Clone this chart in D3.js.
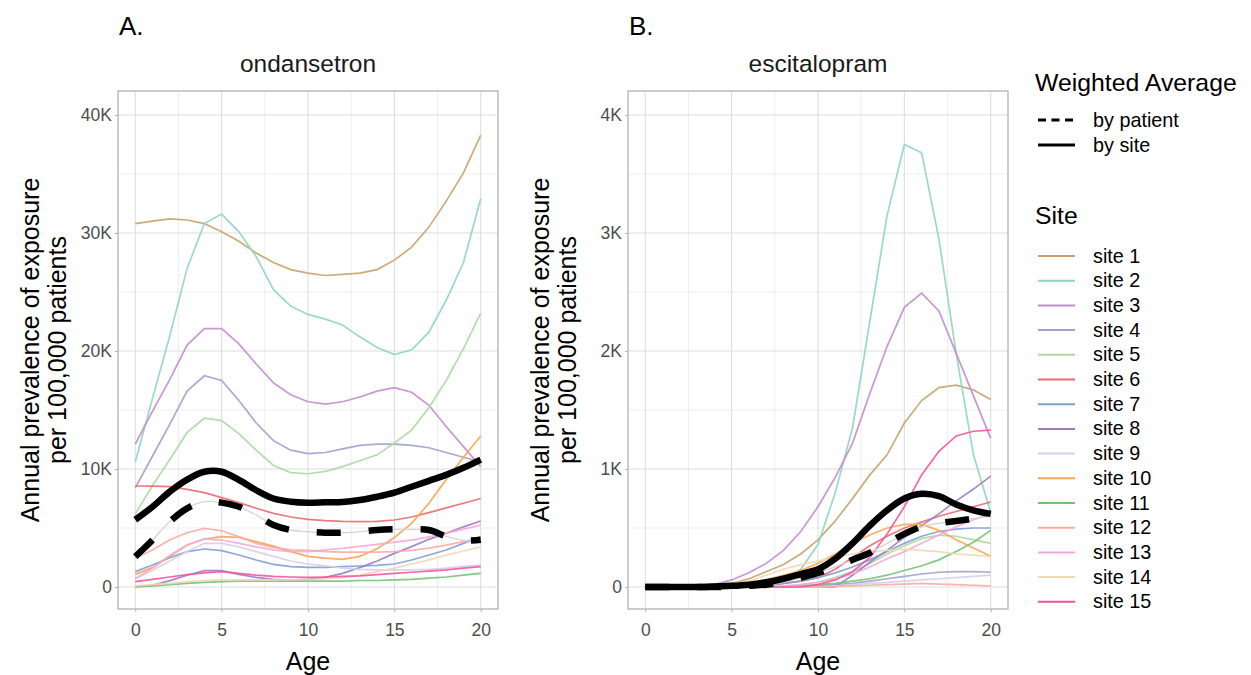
<!DOCTYPE html>
<html><head><meta charset="utf-8">
<script src="https://cdn.jsdelivr.net/npm/d3@7"></script>
<style>body{margin:0;background:#fff} svg{display:block} text{font-family:"Liberation Sans",Arial,sans-serif}</style>
</head><body><svg id="c" width="1251" height="675"></svg>
<script>
// ---------- DATA (values in thousands per 100,000 patients) ----------
const ages = d3.range(0, 21);
const siteNames = ["site 1","site 2","site 3","site 4","site 5","site 6","site 7","site 8","site 9","site 10","site 11","site 12","site 13","site 14","site 15"];
const siteColors = ["#c8a26a","#8fd6bb","#c38bd1","#a29fd2","#a8dba0","#ec6a6e","#7fa0d4","#9b7cc4","#d6cfe8","#fca54e","#74c274","#fcaba4","#f5a8d8","#eed8b6","#f2559f"];
const panelLetters = ["A.", "B."];
const drugs = ["ondansetron", "escitalopram"];
const ondTicks = [0, 10, 20, 30, 40];
const escTicks = [0, 1, 2, 3, 4];
const ageTicks = [0, 5, 10, 15, 20];

// ondansetron
const ond_site1  = [30.8,31.0,31.2,31.1,30.8,30.1,29.3,28.3,27.5,26.9,26.6,26.4,26.5,26.6,26.9,27.7,28.8,30.5,32.7,35.1,38.3];
const ond_site2  = [10.6,16.0,21.3,27.0,30.8,31.6,30.1,28.0,25.2,23.8,23.1,22.7,22.2,21.2,20.3,19.7,20.1,21.6,24.3,27.5,32.9];
const ond_site3  = [12.1,14.9,17.6,20.5,21.9,21.9,20.6,18.9,17.3,16.3,15.7,15.5,15.7,16.1,16.6,16.9,16.5,15.4,13.6,11.9,10.2];
const ond_site4  = [8.4,11.1,13.8,16.6,17.9,17.5,15.8,13.9,12.4,11.6,11.3,11.4,11.7,12.0,12.1,12.1,12.0,11.8,11.4,11.0,10.6];
const ond_site5  = [6.2,8.6,10.8,13.1,14.3,14.1,13.0,11.6,10.3,9.7,9.6,9.8,10.2,10.7,11.2,12.2,13.3,15.2,17.5,20.2,23.2];
const ond_site6  = [8.56,8.55,8.5,8.28,8.0,7.57,7.15,6.67,6.24,5.93,5.73,5.62,5.56,5.54,5.56,5.68,5.93,6.3,6.7,7.1,7.5];
const ond_site7  = [1.3,1.86,2.49,3.0,3.22,3.08,2.71,2.29,1.92,1.72,1.67,1.67,1.72,1.78,1.84,1.95,2.29,2.71,3.14,3.7,4.26];
const ond_site8  = [0.0,0.14,0.54,1.0,1.38,1.38,1.07,0.82,0.65,0.59,0.65,0.82,1.16,1.64,2.2,2.85,3.42,4.04,4.55,5.1,5.59];
const ond_site9  = [0.7,1.4,2.2,3.0,3.7,3.7,3.4,3.0,2.6,2.2,1.95,1.8,1.6,1.5,1.45,1.45,1.45,1.5,1.6,1.75,1.85];
const ond_site10 = [1.07,1.64,2.6,3.56,4.07,4.27,4.2,3.84,3.47,3.0,2.6,2.45,2.35,2.6,3.25,4.2,5.4,7.1,9.1,11.0,12.8];
const ond_site11 = [0.05,0.1,0.2,0.3,0.4,0.45,0.5,0.5,0.5,0.5,0.5,0.5,0.5,0.55,0.55,0.6,0.65,0.75,0.85,1.0,1.15];
const ond_site12 = [2.43,3.14,4.0,4.6,4.97,4.77,4.27,3.7,3.36,3.14,3.1,3.0,2.95,2.95,2.95,3.0,3.1,3.3,3.55,3.85,4.2];
const ond_site13 = [0.73,1.58,2.7,3.56,4.07,3.98,3.7,3.4,3.15,3.0,3.0,3.15,3.28,3.45,3.62,3.8,3.98,4.25,4.55,4.9,5.25];
const ond_site14 = [0.1,0.2,0.3,0.45,0.55,0.6,0.6,0.6,0.6,0.6,0.65,0.7,0.8,1.0,1.3,1.6,1.95,2.3,2.7,3.05,3.4];
const ond_site15 = [0.45,0.65,0.85,1.05,1.2,1.3,1.15,1.0,0.9,0.85,0.82,0.85,0.9,0.95,1.05,1.15,1.25,1.35,1.45,1.6,1.72];
const ond_bySite    = [5.7,6.8,8.08,9.1,9.77,9.77,9.07,8.2,7.5,7.23,7.15,7.18,7.2,7.37,7.65,8.0,8.5,9.0,9.5,10.1,10.8];
const ond_byPatient = [2.57,3.98,5.54,6.67,7.23,7.15,6.8,6.1,5.25,4.83,4.69,4.6,4.6,4.69,4.83,4.89,4.89,4.83,4.3,3.95,4.0];

// escitalopram
const esc_site1  = [0,0,0,0,0.01,0.03,0.07,0.13,0.19,0.28,0.4,0.56,0.75,0.95,1.12,1.39,1.58,1.69,1.71,1.67,1.59];
const esc_site2  = [0,0,0,0,0,0,0.01,0.02,0.06,0.15,0.36,0.8,1.35,2.25,3.15,3.75,3.68,2.95,1.98,1.12,0.63];
const esc_site3  = [0,0,0,0,0.02,0.06,0.12,0.2,0.31,0.47,0.68,0.93,1.22,1.64,2.04,2.37,2.49,2.34,1.98,1.62,1.26];
const esc_site4  = [0,0,0,0,0,0,0,0,0,0,0.01,0.02,0.03,0.05,0.07,0.09,0.11,0.125,0.13,0.13,0.125];
const esc_site5  = [0,0,0,0,0,0,0,0,0,0.02,0.04,0.08,0.13,0.2,0.28,0.35,0.41,0.44,0.43,0.4,0.37];
const esc_site6  = [0,0,0,0,0,0,0,0.01,0.03,0.05,0.08,0.15,0.25,0.35,0.43,0.5,0.55,0.6,0.64,0.68,0.72];
const esc_site7  = [0,0,0,0,0,0,0,0.01,0.03,0.05,0.08,0.12,0.17,0.23,0.3,0.37,0.43,0.47,0.49,0.5,0.5];
const esc_site8  = [0,0,0,0,0,0,0,0,0,0,0,0,0.1,0.21,0.31,0.42,0.52,0.62,0.73,0.83,0.94];
const esc_site9  = [0,0,0,0,0,0,0,0,0,0,0,0.01,0.02,0.03,0.04,0.05,0.06,0.07,0.08,0.09,0.1];
const esc_site10 = [0,0,0,0,0,0.01,0.03,0.06,0.1,0.14,0.2,0.28,0.37,0.44,0.5,0.53,0.53,0.48,0.4,0.33,0.26];
const esc_site11 = [0,0,0,0,0,0,0,0,0,0.01,0.02,0.03,0.05,0.07,0.1,0.14,0.18,0.23,0.3,0.38,0.48];
const esc_site12 = [0,0,0,0,0,0,0,0,0,0,0,0.005,0.01,0.015,0.02,0.025,0.03,0.025,0.02,0.015,0.01];
const esc_site13 = [0,0,0,0,0,0,0,0,0.01,0.02,0.04,0.07,0.11,0.17,0.24,0.3,0.37,0.44,0.51,0.57,0.62];
const esc_site14 = [0,0,0,0,0,0.02,0.05,0.1,0.15,0.19,0.22,0.25,0.28,0.3,0.31,0.32,0.31,0.3,0.28,0.27,0.26];
const esc_site15 = [0,0,0,0,0,0,0,0,0,0,0.02,0.06,0.13,0.25,0.45,0.68,0.95,1.15,1.28,1.32,1.33];
const esc_bySite    = [0,0,0,0,0.005,0.01,0.02,0.04,0.07,0.11,0.15,0.24,0.37,0.52,0.65,0.75,0.79,0.77,0.70,0.65,0.62];
const esc_byPatient = [0,0,0,0,0,0,0.01,0.02,0.04,0.08,0.12,0.17,0.23,0.29,0.37,0.45,0.51,0.54,0.56,0.58,0.6];

const ondSites = [ond_site1,ond_site2,ond_site3,ond_site4,ond_site5,ond_site6,ond_site7,ond_site8,ond_site9,ond_site10,ond_site11,ond_site12,ond_site13,ond_site14,ond_site15];
const escSites = [esc_site1,esc_site2,esc_site3,esc_site4,esc_site5,esc_site6,esc_site7,esc_site8,esc_site9,esc_site10,esc_site11,esc_site12,esc_site13,esc_site14,esc_site15];

// ---------- LAYOUT ----------
const svg = d3.select("#c");
const pTop = 91, pBottom = 609;
const panels = [
  {left: 118, right: 498, yDomain: [-1.864, 42.034], ticks: ondTicks, minor: [5,15,25,35], sites: ondSites, bySite: ond_bySite, byPatient: ond_byPatient},
  {left: 628, right: 1008, yDomain: [-0.1864, 4.2034], ticks: escTicks, minor: [0.5,1.5,2.5,3.5], sites: escSites, bySite: esc_bySite, byPatient: esc_byPatient}
];
const fmt = d => d === 0 ? "0" : d + "K";

panels.forEach((p, i) => {
  const x = d3.scaleLinear().domain([-1, 21]).range([p.left, p.right]);
  const y = d3.scaleLinear().domain(p.yDomain).range([pBottom, pTop]);
  const g = svg.append("g");
  const minorX = [2.5, 7.5, 12.5, 17.5];
  g.selectAll(".gmx").data(minorX).join("line").attr("x1", d=>x(d)).attr("x2", d=>x(d)).attr("y1", pTop).attr("y2", pBottom).attr("stroke","#ebebeb").attr("stroke-width",0.8);
  g.selectAll(".gmy").data(p.minor).join("line").attr("y1", d=>y(d)).attr("y2", d=>y(d)).attr("x1", p.left).attr("x2", p.right).attr("stroke","#ebebeb").attr("stroke-width",0.8);
  g.selectAll(".gx").data(ageTicks).join("line").attr("x1", d=>x(d)).attr("x2", d=>x(d)).attr("y1", pTop).attr("y2", pBottom).attr("stroke","#dedede").attr("stroke-width",1.1);
  g.selectAll(".gy").data(p.ticks).join("line").attr("y1", d=>y(d)).attr("y2", d=>y(d)).attr("x1", p.left).attr("x2", p.right).attr("stroke","#dedede").attr("stroke-width",1.1);

  const line = d3.line().x((d, k) => x(ages[k])).y(d => y(d));
  p.sites.forEach((s, k) => {
    g.append("path").datum(s).attr("d", line).attr("fill","none")
     .attr("stroke", siteColors[k]).attr("stroke-width", 1.7).attr("stroke-opacity", 0.9);
  });
  const smooth = d3.line().x((d, k) => x(ages[k])).y(d => y(d)).curve(d3.curveCatmullRom);
  g.append("path").datum(p.byPatient).attr("d", smooth).attr("fill","none").attr("stroke","#d4d4d4").attr("stroke-width",1.3);
  g.append("path").datum(p.byPatient).attr("d", smooth).attr("fill","none").attr("stroke","#000").attr("stroke-width",6.5).attr("stroke-dasharray","24,28");
  g.append("path").datum(p.bySite).attr("d", smooth).attr("fill","none").attr("stroke","#000").attr("stroke-width",6.5).attr("stroke-linejoin","round");

  g.append("rect").attr("x", p.left).attr("y", pTop).attr("width", p.right - p.left).attr("height", pBottom - pTop)
   .attr("fill","none").attr("stroke","#b3b3b3").attr("stroke-width",1.3);

  const ya = g.append("g").attr("transform", `translate(${p.left},0)`)
    .call(d3.axisLeft(y).tickValues(p.ticks).tickFormat(fmt).tickSize(3).tickPadding(3));
  const xa = g.append("g").attr("transform", `translate(0,${pBottom})`)
    .call(d3.axisBottom(x).tickValues(ageTicks).tickSize(3).tickPadding(12));
  [ya, xa].forEach(a => {
    a.select(".domain").remove();
    a.selectAll(".tick line").attr("stroke","#b3b3b3");
    a.selectAll(".tick text").attr("fill","#4d4d4d").style("font-size","17.5px").style("font-family","Liberation Sans, Arial, sans-serif");
  });

  const cx = (p.left + p.right) / 2;
  g.append("text").attr("x", p.left + 1).attr("y", 35).text(panelLetters[i]).style("font-size","26px").attr("fill","#000");
  g.append("text").attr("x", cx).attr("y", 72).attr("text-anchor","middle").text(drugs[i]).style("font-size","24.5px").attr("fill","#1a1a1a");
  g.append("text").attr("x", cx).attr("y", 670).attr("text-anchor","middle").text("Age").style("font-size","25px").attr("fill","#000");
  const yt = g.append("text").attr("transform", `translate(${p.left - 79},350) rotate(-90)`).attr("text-anchor","middle").style("font-size","25px").attr("fill","#000");
  yt.append("tspan").attr("x",0).attr("dy",0).text("Annual prevalence of exposure");
  yt.append("tspan").attr("x",0).attr("dy",27).text("per 100,000 patients");
});

// ---------- LEGEND ----------
const lg = svg.append("g");
lg.append("text").attr("x",1035).attr("y",91).text("Weighted Average").style("font-size","24.8px").attr("fill","#000");
const waKeys = [{label:"by patient", dash:"8,5.5"}, {label:"by site", dash:null}];
waKeys.forEach((k, i) => {
  const yy = 120 + i*25;
  lg.append("line").attr("x1",1038).attr("x2",1075).attr("y1",yy).attr("y2",yy).attr("stroke","#000").attr("stroke-width",3)
    .attr("stroke-dasharray", k.dash);
  lg.append("text").attr("x",1093).attr("y",yy+6.5).text(k.label).style("font-size","19.8px").attr("fill","#000");
});
lg.append("text").attr("x",1035).attr("y",224).text("Site").style("font-size","24.8px").attr("fill","#000");
siteNames.forEach((n, i) => {
  const yy = 256 + i*24.7;
  lg.append("line").attr("x1",1038).attr("x2",1075).attr("y1",yy).attr("y2",yy).attr("stroke",siteColors[i]).attr("stroke-width",2);
  lg.append("text").attr("x",1093).attr("y",yy+6.5).text(n).style("font-size","19.8px").attr("fill","#000");
});
</script></body></html>
